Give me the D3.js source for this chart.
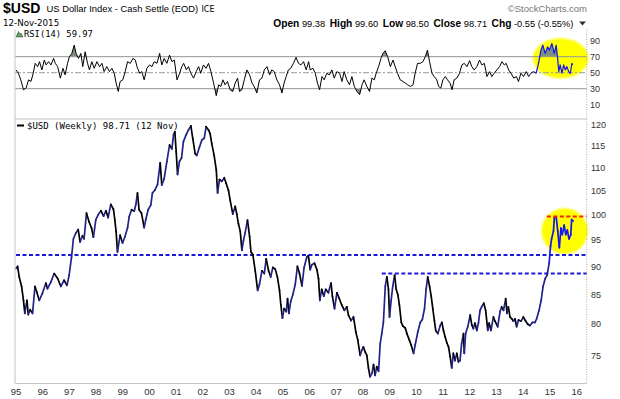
<!DOCTYPE html>
<html>
<head>
<meta charset="utf-8">
<script src="https://cdn.jsdelivr.net/npm/d3@7/dist/d3.min.js"></script>
<style>
  body { margin: 0; background: #fff; }
  svg { display: block; }
</style>
</head>
<body>
<div id="container"></div>
<script>
// Weekly $USD closes (decimal year, index value)
const priceYears = [
  1995.00, 1995.06, 1995.12, 1995.21, 1995.28, 1995.33, 1995.41, 1995.46, 1995.53, 1995.62,
  1995.71, 1995.78, 1995.87, 1995.99, 1996.12, 1996.18, 1996.31, 1996.43, 1996.56, 1996.68,
  1996.80, 1996.91, 1996.99, 1997.08, 1997.15, 1997.24, 1997.33, 1997.40, 1997.49, 1997.55,
  1997.64, 1997.74, 1997.83, 1997.90, 1997.99, 1998.08, 1998.18, 1998.28, 1998.37, 1998.45,
  1998.55, 1998.65, 1998.70, 1998.75, 1998.80, 1998.90, 1998.99, 1999.08, 1999.18, 1999.24,
  1999.33, 1999.43, 1999.49, 1999.55, 1999.61, 1999.70, 1999.80, 1999.86, 1999.95, 2000.05,
  2000.11, 2000.20, 2000.30, 2000.40, 2000.46, 2000.55, 2000.65, 2000.75, 2000.84, 2000.90,
  2000.95, 2001.00, 2001.05, 2001.12, 2001.20, 2001.27, 2001.37, 2001.46, 2001.55, 2001.62,
  2001.71, 2001.77, 2001.87, 2001.96, 2002.05, 2002.12, 2002.21, 2002.27, 2002.33, 2002.42,
  2002.50, 2002.55, 2002.62, 2002.71, 2002.80, 2002.87, 2002.96, 2003.02, 2003.12, 2003.21,
  2003.27, 2003.33, 2003.40, 2003.46, 2003.52, 2003.58, 2003.67, 2003.75, 2003.80, 2003.87,
  2003.96, 2004.05, 2004.12, 2004.21, 2004.30, 2004.37, 2004.46, 2004.54, 2004.62, 2004.71,
  2004.79, 2004.87, 2004.92, 2004.98, 2005.04, 2005.12, 2005.17, 2005.22, 2005.29, 2005.37,
  2005.46, 2005.54, 2005.62, 2005.71, 2005.79, 2005.89, 2005.95, 2006.02, 2006.08, 2006.18,
  2006.27, 2006.33, 2006.38, 2006.45, 2006.53, 2006.60, 2006.70, 2006.80, 2006.85, 2006.93,
  2007.02, 2007.10, 2007.20, 2007.30, 2007.39, 2007.45, 2007.55, 2007.64, 2007.73, 2007.80,
  2007.89, 2007.95, 2008.01, 2008.08, 2008.14, 2008.20, 2008.26, 2008.33, 2008.39, 2008.45,
  2008.51, 2008.58, 2008.64, 2008.70, 2008.76, 2008.83, 2008.89, 2008.95, 2008.99, 2009.05,
  2009.11, 2009.18, 2009.24, 2009.30, 2009.36, 2009.43, 2009.49, 2009.58, 2009.64, 2009.73,
  2009.80, 2009.89, 2009.95, 2010.05, 2010.14, 2010.22, 2010.30, 2010.36, 2010.42, 2010.49,
  2010.55, 2010.61, 2010.67, 2010.72, 2010.80, 2010.89, 2010.95, 2011.01, 2011.07, 2011.14,
  2011.20, 2011.26, 2011.32, 2011.38, 2011.44, 2011.51, 2011.57, 2011.63, 2011.69, 2011.76,
  2011.79, 2011.84, 2011.92, 2012.01, 2012.07, 2012.13, 2012.19, 2012.26, 2012.32, 2012.38,
  2012.44, 2012.52, 2012.59, 2012.67, 2012.72, 2012.79, 2012.88, 2012.94, 2013.04, 2013.13,
  2013.19, 2013.26, 2013.34, 2013.39, 2013.44, 2013.50, 2013.57, 2013.63, 2013.69, 2013.75,
  2013.82, 2013.92, 2014.00, 2014.09, 2014.17, 2014.25, 2014.34, 2014.44, 2014.50, 2014.59,
  2014.67, 2014.74, 2014.82, 2014.89, 2014.97, 2015.02, 2015.06, 2015.13, 2015.16, 2015.23,
  2015.29, 2015.35, 2015.41, 2015.46, 2015.53, 2015.59, 2015.65, 2015.71, 2015.78, 2015.81,
  2015.87
];
const priceValues = [
  89.6, 90.0, 88.1, 86.4, 84.0, 81.8, 84.0, 81.6, 82.4, 81.8,
  86.4, 85.4, 84.0, 85.2, 87.0, 86.0, 87.2, 88.7, 87.8, 86.4,
  87.5, 86.6, 88.4, 91.7, 95.2, 96.3, 97.0, 94.6, 95.8, 95.2,
  100.3, 98.5, 97.3, 95.5, 99.0, 100.0, 100.8, 99.7, 100.8, 99.4,
  102.1, 101.1, 99.0, 96.6, 92.7, 95.9, 94.4, 95.6, 97.4, 99.6,
  101.0, 100.7, 102.1, 104.5, 101.0, 100.3, 97.4, 99.0, 101.0, 102.0,
  104.5, 105.1, 106.3, 111.1, 106.2, 107.6, 111.4, 115.2, 114.3, 117.6,
  118.4, 113.6, 108.5, 111.4, 112.2, 116.0, 117.6, 118.8, 119.8, 116.8,
  113.2, 112.8, 114.7, 116.4, 116.8, 119.6, 118.8, 117.9, 115.6, 112.8,
  109.6, 104.5, 107.4, 107.0, 107.8, 106.6, 105.0, 103.0, 100.1, 101.7,
  100.1, 98.2, 96.6, 93.0, 94.9, 96.3, 98.9, 95.6, 92.7, 92.2,
  89.2, 85.7, 86.8, 89.2, 88.7, 91.4, 89.2, 88.1, 89.8, 89.5,
  88.1, 85.7, 83.2, 81.0, 82.6, 82.1, 84.3, 81.8, 83.8, 85.0,
  86.8, 90.0, 88.7, 86.5, 89.8, 91.7, 92.0, 89.4, 90.3, 90.6,
  89.4, 87.8, 84.0, 85.9, 84.7, 85.9, 85.3, 87.0, 84.7, 82.6,
  85.3, 84.4, 83.2, 82.3, 82.9, 81.5, 80.6, 81.2, 78.7, 77.5,
  75.1, 75.9, 76.4, 75.6, 75.1, 73.2, 71.9, 72.4, 73.7, 72.1,
  73.4, 72.7, 76.9, 78.5, 80.3, 86.4, 88.1, 85.9, 81.2, 84.0,
  86.4, 88.4, 85.9, 85.0, 83.2, 80.3, 79.7, 79.4, 78.5, 77.5,
  76.7, 75.4, 76.7, 78.8, 80.3, 80.8, 82.6, 85.9, 88.1, 86.4,
  84.7, 82.6, 80.6, 79.0, 78.5, 79.8, 80.3, 79.0, 78.0, 77.0,
  76.4, 74.9, 73.2, 75.4, 74.3, 75.4, 74.1, 74.3, 76.9, 78.5,
  75.4, 78.5, 79.6, 81.5, 79.9, 79.3, 80.2, 79.0, 80.2, 82.3,
  82.9, 83.5, 82.3, 79.0, 80.2, 79.0, 81.2, 80.5, 79.6, 82.1,
  82.9, 82.3, 84.3, 81.8, 82.9, 81.2, 80.9, 80.5, 80.9, 79.6,
  80.7, 80.5, 81.2, 80.5, 80.0, 79.8, 80.3, 80.3, 80.9, 82.3,
  84.0, 86.4, 87.8, 88.4, 90.6, 93.8, 95.2, 96.7, 99.3, 99.6,
  96.7, 93.5, 97.3, 96.0, 97.9, 96.0, 96.9, 95.2, 96.0, 99.0,
  98.7
];

// RSI(14)
const rsiYears = [
  1995.00, 1995.09, 1995.18, 1995.28, 1995.38, 1995.47, 1995.56, 1995.63, 1995.72, 1995.81,
  1995.88, 1995.97, 1996.06, 1996.13, 1996.22, 1996.31, 1996.41, 1996.47, 1996.56, 1996.66,
  1996.76, 1996.84, 1996.93, 1997.00, 1997.09, 1997.18, 1997.25, 1997.34, 1997.43, 1997.50,
  1997.59, 1997.68, 1997.75, 1997.84, 1997.93, 1998.03, 1998.13, 1998.22, 1998.30, 1998.40,
  1998.50, 1998.59, 1998.68, 1998.75, 1998.83, 1998.90, 1999.00, 1999.09, 1999.18, 1999.28,
  1999.38, 1999.47, 1999.53, 1999.63, 1999.71, 1999.80, 1999.90, 2000.00, 2000.09, 2000.18,
  2000.28, 2000.38, 2000.46, 2000.55, 2000.65, 2000.75, 2000.84, 2000.93, 2001.03, 2001.13,
  2001.21, 2001.28, 2001.38, 2001.46, 2001.55, 2001.65, 2001.75, 2001.84, 2001.92, 2002.02,
  2002.12, 2002.21, 2002.30, 2002.40, 2002.50, 2002.59, 2002.67, 2002.75, 2002.83, 2002.92,
  2003.02, 2003.12, 2003.21, 2003.30, 2003.37, 2003.46, 2003.55, 2003.65, 2003.75, 2003.84,
  2003.92, 2004.02, 2004.12, 2004.21, 2004.30, 2004.40, 2004.50, 2004.58, 2004.67, 2004.77,
  2004.87, 2004.96, 2005.04, 2005.12, 2005.20, 2005.29, 2005.39, 2005.49, 2005.58, 2005.67,
  2005.77, 2005.87, 2005.96, 2006.02, 2006.12, 2006.21, 2006.29, 2006.37, 2006.46, 2006.54,
  2006.64, 2006.74, 2006.83, 2006.92, 2007.02, 2007.12, 2007.21, 2007.29, 2007.39, 2007.49,
  2007.58, 2007.67, 2007.77, 2007.87, 2007.96, 2008.04, 2008.14, 2008.24, 2008.33, 2008.42,
  2008.49, 2008.58, 2008.67, 2008.74, 2008.83, 2008.92, 2009.02, 2009.12, 2009.20, 2009.29,
  2009.39, 2009.49, 2009.58, 2009.67, 2009.77, 2009.87, 2009.95, 2010.04, 2010.14, 2010.24,
  2010.33, 2010.41, 2010.49, 2010.58, 2010.66, 2010.76, 2010.83, 2010.91, 2010.99, 2011.08,
  2011.16, 2011.26, 2011.33, 2011.41, 2011.51, 2011.61, 2011.70, 2011.79, 2011.89, 2011.99,
  2012.07, 2012.16, 2012.26, 2012.36, 2012.45, 2012.54, 2012.64, 2012.74, 2012.82, 2012.91,
  2013.01, 2013.11, 2013.20, 2013.29, 2013.36, 2013.45, 2013.54, 2013.64, 2013.74, 2013.82,
  2013.91, 2014.01, 2014.11, 2014.20, 2014.28, 2014.38, 2014.48, 2014.57, 2014.66, 2014.73,
  2014.82, 2014.91, 2014.98, 2015.07, 2015.16, 2015.23, 2015.28, 2015.33, 2015.38, 2015.45,
  2015.51, 2015.57, 2015.63, 2015.70, 2015.76, 2015.82, 2015.86
];
const rsiValues = [
  53.5, 49.3, 41.1, 28.7, 30.8, 41.1, 39.0, 47.3, 61.7, 57.6,
  63.8, 53.5, 65.8, 59.7, 63.8, 59.7, 67.9, 61.7, 57.6, 43.2,
  55.5, 47.3, 61.7, 70.0, 74.1, 84.4, 74.1, 67.9, 74.1, 57.6,
  76.2, 61.7, 53.5, 63.8, 55.5, 63.8, 57.6, 61.7, 51.4, 57.6,
  51.4, 55.5, 49.3, 37.0, 26.6, 39.0, 41.1, 51.4, 63.8, 61.7,
  67.9, 65.8, 57.6, 49.3, 51.4, 41.1, 55.5, 59.7, 57.6, 63.8,
  61.7, 74.1, 59.7, 67.9, 61.7, 72.0, 63.8, 65.8, 41.1, 49.3,
  57.6, 61.7, 53.5, 57.6, 49.3, 43.2, 51.4, 57.6, 49.3, 59.7,
  55.5, 61.7, 51.4, 37.0, 21.3, 34.9, 32.8, 41.1, 34.9, 39.0,
  28.7, 26.6, 37.0, 43.2, 26.6, 28.7, 41.1, 53.5, 47.3, 37.0,
  32.8, 24.6, 41.1, 43.2, 53.5, 57.6, 47.3, 53.5, 51.4, 41.1,
  34.9, 24.6, 37.0, 45.2, 53.5, 55.5, 61.7, 69.1, 61.7, 59.7,
  63.8, 53.5, 63.8, 53.5, 55.5, 49.3, 37.0, 28.7, 45.2, 41.1,
  49.3, 47.3, 53.5, 43.2, 51.4, 49.3, 39.0, 51.4, 41.1, 34.9,
  45.2, 32.8, 26.6, 22.5, 34.9, 41.1, 32.8, 26.6, 43.2, 41.1,
  49.3, 57.6, 67.9, 74.1, 77.4, 70.0, 57.6, 65.8, 57.6, 49.3,
  41.1, 39.0, 37.0, 34.9, 32.8, 34.9, 49.3, 61.7, 61.7, 63.8,
  70.0, 78.2, 63.8, 49.3, 45.2, 41.1, 32.8, 30.8, 41.1, 45.2,
  41.1, 37.0, 28.7, 41.1, 43.2, 49.3, 59.7, 61.7, 57.6, 65.0,
  57.6, 53.5, 57.6, 65.8, 59.7, 61.7, 45.2, 51.4, 45.2, 49.3,
  53.5, 57.6, 63.8, 59.7, 61.7, 53.5, 49.3, 43.2, 45.2, 39.0,
  49.3, 45.2, 51.4, 45.2, 49.3, 51.4, 49.3, 61.7, 78.2, 84.4,
  74.1, 82.3, 78.2, 86.5, 74.1, 84.4, 70.0, 51.4, 59.7, 49.3,
  59.7, 53.5, 57.6, 51.4, 49.3, 61.7, 60.0
];

const yearTicks = d3.range(1995, 2017);
const yearLabels = ["95", "96", "97", "98", "99", "00", "01", "02", "03", "04", "05",
  "06", "07", "08", "09", "10", "11", "12", "13", "14", "15", "16"];
const priceTicks = [75, 80, 85, 90, 95, 100, 105, 110, 115, 120];
const rsiTicks = [10, 30, 50, 70, 90];

// annotations drawn on the chart
const blueLevels = [{ v: 92.1, from: 1995.0 }, { v: 88.7, from: 2008.70 }];
const redLevel = { v: 99.6, from: 2014.88 };
const priceCircle = { t0: 2014.68, t1: 2016.42, v0: 92.3, v1: 101.3 };
const rsiCircle = { t0: 2014.36, t1: 2016.44, v0: 43, v1: 93 };
const priceHiFrom = 2014.97, rsiHiFrom = 2014.48;

const width = 620, height = 399;
const left = 15, right = 586.7;
const rsiTop = 29, rsiBot = 119, mainTop = 119, mainBot = 383.5;
const sans = "'Liberation Sans', Arial, sans-serif";
const mono = "'DejaVu Sans Mono', monospace";
const verd = "'DejaVu Sans', Verdana, sans-serif";

const svg = d3.select("#container").append("svg")
  .attr("width", width).attr("height", height);

const defs = svg.append("defs");
defs.append("filter").attr("id", "soft").append("feGaussianBlur").attr("stdDeviation", 1.1);
defs.append("clipPath").attr("id", "clipRsi").append("rect")
  .attr("x", left).attr("y", rsiTop).attr("width", right - left).attr("height", rsiBot - rsiTop);
defs.append("clipPath").attr("id", "clipMain").append("rect")
  .attr("x", left).attr("y", mainTop).attr("width", right - left).attr("height", mainBot - mainTop);

// scales
const x = d3.scaleLinear().domain([1995, 2016]).range([16, 576.7]);
const y = d3.scaleLog().domain([75, 120]).range([356, 125]);
const ry = d3.scaleLinear().domain([0, 100]).range([112.7, 32.7]);

const price = priceYears.map((t, i) => ({ t, v: priceValues[i] }));
const rsi = rsiYears.map((t, i) => ({ t, v: rsiValues[i] }));

// ---------- header ----------
svg.append("text").attr("x", 3).attr("y", 12.5).attr("font-family", sans)
  .attr("font-size", 14).attr("font-weight", "bold").attr("fill", "#000").text("$USD");
svg.append("text").attr("x", 46.5).attr("y", 11.5).attr("font-family", sans)
  .attr("font-size", 9.4).attr("fill", "#000").text("US Dollar Index - Cash Settle (EOD)");
svg.append("text").attr("x", 201.5).attr("y", 11.5).attr("font-family", verd)
  .attr("font-size", 8).attr("fill", "#000").text("ICE");
svg.append("text").attr("x", 3).attr("y", 26.3).attr("font-family", verd)
  .attr("font-size", 8.7).attr("fill", "#000").text("12-Nov-2015");
svg.append("text").attr("x", 587).attr("y", 11.5).attr("text-anchor", "end")
  .attr("font-family", sans).attr("font-size", 9.5).attr("fill", "#777").text("\u00A9StockCharts.com");

const quote = [["Open", "99.38"], ["High", "99.60"], ["Low", "98.50"], ["Close", "98.71"], ["Chg", "-0.55 (-0.55%)"]];
const qt = svg.append("text").attr("x", 273.3).attr("y", 26.5).attr("font-family", sans).attr("fill", "#000");
quote.forEach((q, i) => {
  qt.append("tspan").attr("dx", i ? 4.5 : 0).attr("font-size", 10.2).attr("font-weight", "bold").text(q[0]);
  qt.append("tspan").attr("dx", 2.6).attr("font-size", 9.3).text(q[1]);
});
svg.append("path").attr("d", "M579,21.5 L586,21.5 L582.5,25.5 Z").attr("fill", "#333");

// ---------- RSI panel ----------
const rg = svg.append("g");
rg.append("ellipse")
  .attr("cx", (x(rsiCircle.t0) + x(rsiCircle.t1)) / 2)
  .attr("cy", (ry(rsiCircle.v0) + ry(rsiCircle.v1)) / 2)
  .attr("rx", (x(rsiCircle.t1) - x(rsiCircle.t0)) / 2)
  .attr("ry", (ry(rsiCircle.v0) - ry(rsiCircle.v1)) / 2)
  .attr("fill", "#ffff00").attr("filter", "url(#soft)");

[70, 30].forEach((lv) => {
  rg.append("line").attr("x1", left).attr("x2", right).attr("y1", ry(lv)).attr("y2", ry(lv))
    .attr("stroke", "#9a9a9a").attr("stroke-width", 1);
});
rg.append("line").attr("x1", left).attr("x2", right).attr("y1", ry(50)).attr("y2", ry(50))
  .attr("stroke", "#9a9a9a").attr("stroke-width", 1).attr("stroke-dasharray", "6,2,2,2");

defs.append("clipPath").attr("id", "ob").append("rect")
  .attr("x", left).attr("y", rsiTop).attr("width", right - left).attr("height", ry(70) - rsiTop);
defs.append("clipPath").attr("id", "os").append("rect")
  .attr("x", left).attr("y", ry(30)).attr("width", right - left).attr("height", rsiBot - ry(30));

rg.append("path").datum(rsi).attr("clip-path", "url(#ob)")
  .attr("d", d3.area().x((d) => x(d.t)).y0(ry(70)).y1((d) => ry(d.v)))
  .attr("fill", "#7f907f");
rg.append("path").datum(rsi).attr("clip-path", "url(#os)")
  .attr("d", d3.area().x((d) => x(d.t)).y0(ry(30)).y1((d) => ry(d.v)))
  .attr("fill", "#7f907f");

const rsiLine = d3.line().x((d) => x(d.t)).y((d) => ry(d.v));
rg.append("path").datum(rsi.filter((d) => d.t <= rsiHiFrom)).attr("clip-path", "url(#clipRsi)")
  .attr("d", rsiLine).attr("fill", "none").attr("stroke", "#000").attr("stroke-width", 1)
  .attr("stroke-linejoin", "round");
rg.append("path").datum(rsi.filter((d) => d.t >= rsiHiFrom)).attr("clip-path", "url(#clipRsi)")
  .attr("d", rsiLine).attr("fill", "none").attr("stroke", "#1414f0").attr("stroke-width", 1.2)
  .attr("stroke-linejoin", "round");

// RSI label
rg.append("path").attr("d", "M16,37 L18.5,31.5 L20,34.5 L21,33 L23,37 Z")
  .attr("fill", "#6d9a6d").attr("stroke", "#335533").attr("stroke-width", 0.6);
rg.append("text").attr("x", 24).attr("y", 37).attr("font-family", mono).attr("font-size", 8.8)
  .attr("fill", "#000").text("RSI(14) 59.97");

// RSI axis
rsiTicks.forEach((t) => {
  rg.append("text").attr("x", 590).attr("y", ry(t)).attr("dy", "0.35em")
    .attr("font-family", sans).attr("font-size", 9).attr("fill", "#333").text(t);
});

// ---------- main panel ----------
const mg = svg.append("g");
mg.append("ellipse")
  .attr("cx", (x(priceCircle.t0) + x(priceCircle.t1)) / 2)
  .attr("cy", (y(priceCircle.v0) + y(priceCircle.v1)) / 2)
  .attr("rx", (x(priceCircle.t1) - x(priceCircle.t0)) / 2)
  .attr("ry", (y(priceCircle.v0) - y(priceCircle.v1)) / 2)
  .attr("fill", "#ffff00").attr("filter", "url(#soft)");

mg.selectAll("line.level").data(blueLevels).enter().append("line")
  .attr("x1", (d) => Math.max(left, x(d.from))).attr("x2", right)
  .attr("y1", (d) => y(d.v)).attr("y2", (d) => y(d.v))
  .attr("stroke", "#1a1ad8").attr("stroke-width", 2).attr("stroke-dasharray", "4,2.5");

const pg = mg.append("g").attr("clip-path", "url(#clipMain)");
pg.selectAll("line.seg").data(d3.pairs(price)).enter().append("line")
  .attr("x1", (d) => x(d[0].t)).attr("y1", (d) => y(d[0].v))
  .attr("x2", (d) => x(d[1].t)).attr("y2", (d) => y(d[1].v))
  .attr("stroke", (d) => d[0].t >= priceHiFrom ? "#1414f5" : (d[1].v >= d[0].v ? "#22228c" : "#000"))
  .attr("stroke-width", 1.7).attr("stroke-linecap", "round");

mg.append("line").attr("x1", x(redLevel.from)).attr("x2", right)
  .attr("y1", y(redLevel.v)).attr("y2", y(redLevel.v))
  .attr("stroke", "#ff2200").attr("stroke-width", 2).attr("stroke-dasharray", "4,2.5");

// main label
mg.append("line").attr("x1", 17).attr("x2", 24).attr("y1", 125.5).attr("y2", 125.5)
  .attr("stroke", "#000").attr("stroke-width", 2);
mg.append("text").attr("x", 27).attr("y", 129).attr("font-family", mono).attr("font-size", 9)
  .attr("fill", "#000").text("$USD (Weekly) 98.71 (12 Nov)");

// price axis
priceTicks.forEach((t) => {
  mg.append("text").attr("x", 591).attr("y", y(t)).attr("dy", "0.35em")
    .attr("font-family", sans).attr("font-size", 9).attr("fill", "#333").text(t);
});

// ---------- frames ----------
const fr = svg.append("g").attr("fill", "none");
fr.append("line").attr("x1", left).attr("x2", left).attr("y1", rsiTop).attr("y2", mainBot)
  .attr("stroke", "#c4c4c4");
fr.append("line").attr("x1", left).attr("x2", right).attr("y1", mainTop).attr("y2", mainTop)
  .attr("stroke", "#c4c4c4");
fr.append("line").attr("x1", left).attr("x2", right).attr("y1", mainBot).attr("y2", mainBot)
  .attr("stroke", "#c4c4c4");
fr.append("line").attr("x1", right).attr("x2", right).attr("y1", rsiTop).attr("y2", mainBot)
  .attr("stroke", "#aaa").attr("stroke-dasharray", "1,1.5");

// x axis labels
svg.selectAll("text.year").data(yearTicks).enter().append("text")
  .attr("x", (d) => x(d)).attr("y", 395).attr("text-anchor", "middle")
  .attr("font-family", sans).attr("font-size", 9.5).attr("fill", "#333")
  .text((d, i) => yearLabels[i]);
</script>
</body>
</html>
